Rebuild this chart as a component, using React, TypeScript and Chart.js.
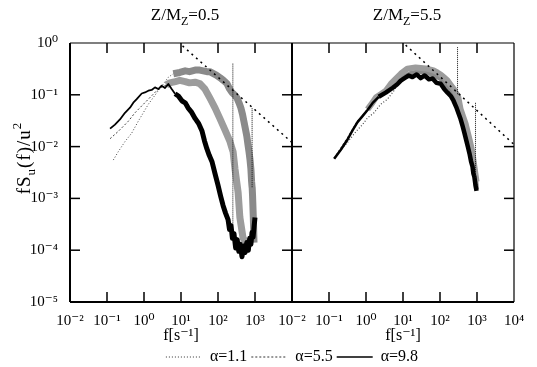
import React, { useEffect, useRef } from 'react';
import { Chart, registerables } from 'chart.js';
Chart.register(...registerables);

const SERIF = "'Liberation Serif', 'Times New Roman', 'DejaVu Serif', serif";
const W = 537;
const H = 367;

// ---- ticks / labels ----
const xTickValues = [0.01, 0.1, 1, 10, 100, 1000, 10000];
const xTickLabels = ['10⁻²', '10⁻¹', '10⁰', '10¹', '10²', '10³', '10⁴'];
const yTickValues = [1e-5, 1e-4, 1e-3, 1e-2, 1e-1, 1];
const yTickLabels = ['10⁻⁵', '10⁻⁴', '10⁻³', '10⁻²', '10⁻¹', '10⁰'];
const panelValues = ['0.5', '5.5'];
const seriesLabels = ['α=1.1', 'α=5.5', 'α=9.8'];

// ---- left panel Z/M_Z = 0.5 ----
const leftF11 = [0.148, 0.202, 0.306, 0.465, 0.70, 0.957, 1.31, 1.78, 2.43, 3.33, 4.54, 6.2, 9.3, 13, 17, 24, 32, 40, 50, 60, 73, 90, 112, 140, 174, 205, 240, 280, 325, 370, 415, 460, 500, 550, 600, 645, 690, 735, 775, 810, 830, 840, 860, 900, 940];
const leftV11 = [0.0055, 0.0080, 0.0125, 0.0182, 0.0309, 0.045, 0.0657, 0.0885, 0.12, 0.162, 0.218, 0.255, 0.27, 0.29, 0.28, 0.30, 0.30, 0.29, 0.28, 0.28, 0.26, 0.24, 0.215, 0.19, 0.165, 0.13, 0.11, 0.10, 0.087, 0.07, 0.056, 0.042, 0.031, 0.022, 0.016, 0.011, 0.0079, 0.0055, 0.0037, 0.0021, 0.0017, 0.0016, 0.0011, 0.00043, 0.00014];

const leftF55 = [0.121, 0.202, 0.377, 0.571, 0.78, 1.06, 1.61, 2.2, 3.0, 4.0, 5.0, 7.0, 9.3, 13, 17, 24, 32, 44, 60, 83, 112, 154, 210, 248, 256, 288, 350, 390, 475, 575];
const leftV55 = [0.0142, 0.0197, 0.0309, 0.045, 0.0564, 0.0706, 0.0955, 0.12, 0.139, 0.155, 0.17, 0.18, 0.19, 0.18, 0.17, 0.175, 0.165, 0.13, 0.087, 0.056, 0.035, 0.021, 0.0126, 0.0085, 0.008, 0.0037, 0.0013, 0.00043, 0.000173, 0.000138];

const leftF98 = [0.121, 0.164, 0.224, 0.306, 0.418, 0.514, 0.635, 0.867, 1.06, 1.31, 1.61, 1.98, 2.43, 3.0, 3.7, 4.54, 5.6, 6.9, 8.5, 10.7, 13, 15.5, 19, 24, 30, 37, 43, 50, 58, 69, 83, 100, 118, 137, 160, 187, 205, 225, 245, 270, 300, 330, 365, 400, 445, 490, 540, 600, 660, 720, 775, 830, 890, 950, 1000];
const leftV98 = [0.0222, 0.0266, 0.0334, 0.045, 0.0564, 0.0706, 0.0823, 0.106, 0.111, 0.12, 0.124, 0.139, 0.129, 0.15, 0.135, 0.162, 0.129, 0.105, 0.095, 0.076, 0.07, 0.056, 0.047, 0.035, 0.028, 0.020, 0.013, 0.0091, 0.0068, 0.0051, 0.003, 0.0018, 0.0011, 0.00073, 0.00052, 0.00039, 0.00025, 0.0003, 0.00017, 0.00021, 0.00011, 0.00016, 0.000095, 0.00013, 0.000075, 0.00012, 0.00009, 0.00014, 0.0001, 0.00017, 0.00013, 0.00022, 0.00018, 0.0003, 0.00043];

// narrow vertical spikes in the left panel
const leftSpikeAF = [252, 252];
const leftSpikeAV = [0.40, 0.0003];
const leftSpikeBF = [835, 835];
const leftSpikeBV = [0.055, 0.0016];

// ---- right panel Z/M_Z = 5.5 ----
const rightF11 = [0.138, 0.209, 0.30, 0.389, 0.55, 0.805, 1.10, 1.65, 2.5, 3.8, 5.7, 8.7, 12, 16.1, 22, 30, 40, 56, 75, 104, 130, 160, 195, 233, 300, 359, 420, 490, 560, 628, 700, 757, 850, 905, 920, 971];
const rightV11 = [0.0059, 0.0087, 0.0115, 0.0146, 0.02, 0.0266, 0.0359, 0.045, 0.0657, 0.0823, 0.12, 0.206, 0.23, 0.258, 0.27, 0.282, 0.27, 0.258, 0.235, 0.206, 0.18, 0.15, 0.125, 0.105, 0.07, 0.049, 0.035, 0.025, 0.018, 0.0126, 0.009, 0.0063, 0.0035, 0.0025, 0.0023, 0.0015];

const rightF55 = [0.138, 0.209, 0.317, 0.433, 0.59, 0.805, 1.10, 1.50, 1.84, 2.5, 3.42, 4.66, 6.35, 8.7, 13.1, 21.9, 30, 40.7, 52, 67, 85, 104, 130, 160, 195, 233, 265, 290, 306, 359, 420, 490, 560, 628, 700, 757, 850, 971];
const rightV55 = [0.0059, 0.00927, 0.0146, 0.0212, 0.0309, 0.0387, 0.0524, 0.0706, 0.0885, 0.103, 0.12, 0.162, 0.203, 0.255, 0.319, 0.338, 0.33, 0.323, 0.31, 0.296, 0.27, 0.247, 0.215, 0.188, 0.155, 0.131, 0.11, 0.1, 0.097, 0.053, 0.038, 0.028, 0.019, 0.0137, 0.0098, 0.0073, 0.0041, 0.0021];

const rightF98 = [0.138, 0.209, 0.317, 0.433, 0.59, 0.805, 1.10, 1.50, 2.2, 3.42, 5.3, 7.0, 8.7, 11, 14.3, 18, 23.4, 30, 38.5, 50, 63, 80, 104, 130, 160, 195, 233, 275, 316, 360, 407, 460, 521, 575, 628, 690, 757, 800, 850, 910, 971];
const rightV98 = [0.0058, 0.0087, 0.0137, 0.0206, 0.0297, 0.0387, 0.051, 0.0688, 0.0915, 0.11, 0.137, 0.16, 0.188, 0.21, 0.236, 0.22, 0.247, 0.21, 0.236, 0.2, 0.206, 0.17, 0.164, 0.13, 0.11, 0.095, 0.076, 0.058, 0.044, 0.034, 0.025, 0.018, 0.0126, 0.0095, 0.0073, 0.0052, 0.0041, 0.003, 0.0026, 0.0018, 0.0014];

// narrow vertical spikes in the right panel
const rightSpikeAF = [298, 298];
const rightSpikeAV = [0.83, 0.1];
const rightSpikeBF = [912, 912];
const rightSpikeBV = [0.07, 0.0025];

// ---- -2/3 reference lines ----
const leftDashF = [11, 10000];
const leftDashV = [0.88, 0.012];
const rightDashF = [11.8, 10000];
const rightDashV = [0.91, 0.011];

// legend line styles (one per alpha)
const legendDashes = [[1, 2], [2, 2], []];
const legendColors = ['#333', '#333', '#000'];
const legendWidths = [1, 1, 1.5];

const pts = (F: number[], V: number[]) => F.map((f, i) => ({ x: f, y: V[i] }));

// thick "band" styling from a given frequency on
const band = (F: number[], fromF: number, width: number, color: string) => {
  const on = (c: any) => F[c.p0DataIndex] >= fromF;
  return {
    borderWidth: (c: any) => (on(c) ? width : undefined),
    borderColor: (c: any) => (on(c) ? color : undefined),
    borderDash: (c: any) => (on(c) ? [] : undefined),
  };
};

const common = {
  pointRadius: 0,
  pointHoverRadius: 0,
  tension: 0,
  fill: false,
  borderJoinStyle: 'round' as const,
  yAxisID: 'y',
};

const spikeStyle = { borderColor: '#111', borderWidth: 1, borderDash: [1, 1], order: 1 };

function drawRich(ctx: CanvasRenderingContext2D, parts: [string, string][], x: number, y: number, size: number) {
  const small = Math.round(size * 0.68);
  const fontFor = (k: string) => `${k === 'n' ? size : small}px ${SERIF}`;
  const widths = parts.map(([t, k]) => {
    ctx.font = fontFor(k);
    return ctx.measureText(t).width;
  });
  const total = widths.reduce((a, b) => a + b, 0);
  let cx = x - total / 2;
  ctx.textAlign = 'left';
  ctx.textBaseline = 'middle';
  parts.forEach(([t, k], i) => {
    ctx.font = fontFor(k);
    const dy = k === 'sub' ? size * 0.32 : k === 'sup' ? -size * 0.38 : 0;
    ctx.fillText(t, cx, y + dy);
    cx += widths[i];
  });
}

const textPlugin = {
  id: 'texts',
  afterDraw(chart: any) {
    const { ctx, scales } = chart;
    const x1 = scales.x1;
    const x2 = scales.x2;
    ctx.save();
    ctx.fillStyle = '#000';
    [x1, x2].forEach((s: any, i: number) => {
      drawRich(ctx, [['Z/M', 'n'], ['Z', 'sub'], ['=' + panelValues[i], 'n']], (s.left + s.right) / 2 + 4, 16, 17);
    });
    ctx.translate(25, 158);
    ctx.rotate(-Math.PI / 2);
    (ctx as any).letterSpacing = '1px';
    drawRich(ctx, [['fS', 'n'], ['u', 'sub'], ['(f)/u', 'n'], ['2', 'sup']], 0, 0, 19);
    ctx.restore();
  },
};

const framePlugin = {
  id: 'frame',
  afterDatasetsDraw(chart: any) {
    const { ctx, chartArea: ca, scales } = chart;
    const x1 = scales.x1;
    const x2 = scales.x2;
    const y = scales.y;
    const line = (ax: number, ay: number, bx: number, by: number) => {
      ctx.beginPath();
      ctx.moveTo(ax, ay);
      ctx.lineTo(bx, by);
      ctx.stroke();
    };
    ctx.save();
    ctx.strokeStyle = '#000';
    ctx.setLineDash([]);
    ctx.lineWidth = 2;
    line(ca.left, ca.top, ca.left, ca.bottom);
    line(x1.right, ca.top, x1.right, ca.bottom);
    line(ca.left, ca.bottom, ca.right, ca.bottom);
    ctx.lineWidth = 1.2;
    line(ca.left, ca.top, ca.right, ca.top);
    line(ca.right, ca.top, ca.right, ca.bottom);
    const tl = 10;
    ctx.lineWidth = 1.5;
    [x1, x2].forEach((s: any) => {
      xTickValues.forEach((v) => {
        const px = s.getPixelForValue(v);
        if (px <= s.left + 1 || px >= s.right - 1) return;
        line(px, ca.bottom, px, ca.bottom - tl);
        line(px, ca.top, px, ca.top + tl);
      });
    });
    yTickValues.forEach((v) => {
      const py = y.getPixelForValue(v);
      if (py <= ca.top + 1 || py >= ca.bottom - 1) return;
      line(ca.left, py, ca.left + tl, py);
      line(x1.right - tl, py, x1.right + tl, py);
      line(ca.right - tl, py, ca.right, py);
    });
    ctx.restore();
  },
};

const xScale = (hideLast: boolean) => ({
  type: 'logarithmic' as const,
  position: 'bottom' as const,
  stack: 'panels',
  stackWeight: 1,
  min: 0.01,
  max: 10000,
  afterBuildTicks: (s: any) => {
    s.ticks = xTickValues.map((v) => ({ value: v }));
  },
  afterFit: (s: any) => {
    s.height = 43;
  },
  ticks: {
    autoSkip: false,
    maxRotation: 0,
    padding: 2,
    color: '#000',
    font: { family: SERIF, size: 15 },
    callback: (_v: any, i: number) => (hideLast && i === xTickValues.length - 1 ? '' : xTickLabels[i]),
  },
  grid: { display: false },
  border: { display: false },
  title: {
    display: true,
    text: 'f[s⁻¹]',
    color: '#000',
    font: { family: SERIF, size: 16 },
    padding: { top: 0, bottom: 0 },
  },
});

const GREY_A = '#8a8a8a';
const GREY_B = '#9c9c9c';

export default function App() {
  const ref = useRef<HTMLCanvasElement>(null);
  useEffect(() => {
    const canvas = ref.current as HTMLCanvasElement;
    const chart = new Chart(canvas, {
      type: 'line',
      data: {
        datasets: [
          { ...common, label: seriesLabels[0], data: pts(leftF11, leftV11), xAxisID: 'x1', borderColor: '#444', borderWidth: 1, borderDash: [1, 2], segment: band(leftF11, 5, 7, GREY_A), order: 4 },
          { ...common, label: seriesLabels[1], data: pts(leftF55, leftV55), xAxisID: 'x1', borderColor: '#444', borderWidth: 1, borderDash: [2, 2], segment: band(leftF55, 4, 7, GREY_B), order: 3 },
          { ...common, label: seriesLabels[2], data: pts(leftF98, leftV98), xAxisID: 'x1', borderColor: '#000', borderWidth: 1.8, segment: band(leftF98, 6, 5, '#000000'), order: 2 },
          { ...common, label: seriesLabels[0], data: pts(rightF11, rightV11), xAxisID: 'x2', borderColor: '#444', borderWidth: 1.2, borderDash: [1, 2], segment: band(rightF11, 6, 5, GREY_A), order: 4 },
          { ...common, label: seriesLabels[1], data: pts(rightF55, rightV55), xAxisID: 'x2', borderColor: '#555', borderWidth: 1.5, borderDash: [2, 2], segment: band(rightF55, 1, 6, GREY_B), order: 3 },
          { ...common, label: seriesLabels[2], data: pts(rightF98, rightV98), xAxisID: 'x2', borderColor: '#000', borderWidth: 2.5, segment: band(rightF98, 2, 4.5, '#000000'), order: 2 },
          { ...common, ...spikeStyle, label: 'spike', data: pts(leftSpikeAF, leftSpikeAV), xAxisID: 'x1' },
          { ...common, ...spikeStyle, label: 'spike', data: pts(leftSpikeBF, leftSpikeBV), xAxisID: 'x1' },
          { ...common, ...spikeStyle, label: 'spike', data: pts(rightSpikeAF, rightSpikeAV), xAxisID: 'x2' },
          { ...common, ...spikeStyle, label: 'spike', data: pts(rightSpikeBF, rightSpikeBV), xAxisID: 'x2' },
          { ...common, label: 'f^-2/3', data: pts(leftDashF, leftDashV), xAxisID: 'x1', borderColor: '#000', borderWidth: 1.5, borderDash: [2, 4], order: 0 },
          { ...common, label: 'f^-2/3', data: pts(rightDashF, rightDashV), xAxisID: 'x2', borderColor: '#000', borderWidth: 1.5, borderDash: [2, 4], order: 0 },
        ] as any,
      },
      options: {
        responsive: false,
        animation: false,
        devicePixelRatio: 1,
        layout: { padding: { top: 43, right: 23, bottom: -8, left: 0 } },
        plugins: {
          tooltip: { enabled: false },
          legend: {
            display: true,
            position: 'bottom',
            fullSize: false,
            onClick: () => {},
            labels: {
              usePointStyle: true,
              pointStyle: 'line',
              pointStyleWidth: 36,
              padding: 4,
              color: '#000',
              font: { family: SERIF, size: 16 },
              generateLabels: () =>
                seriesLabels.map((t, i) => ({
                  text: t,
                  fillStyle: 'rgba(0,0,0,0)',
                  strokeStyle: legendColors[i],
                  lineWidth: legendWidths[i],
                  lineDash: legendDashes[i],
                  lineCap: 'butt',
                  pointStyle: 'line',
                  hidden: false,
                  datasetIndex: i,
                  fontColor: '#000',
                })),
            },
          },
        },
        scales: {
          x1: xScale(true),
          x2: xScale(false),
          y: {
            type: 'logarithmic',
            position: 'left',
            min: 1e-5,
            max: 1,
            afterBuildTicks: (s: any) => {
              s.ticks = yTickValues.map((v) => ({ value: v }));
            },
            afterFit: (s: any) => {
              s.width = 70;
            },
            ticks: {
              autoSkip: false,
              padding: 4,
              color: '#000',
              font: { family: SERIF, size: 15 },
              callback: (_v: any, i: number) => yTickLabels[i],
            },
            grid: { display: false },
            border: { display: false },
          },
        } as any,
      } as any,
      plugins: [framePlugin, textPlugin],
    });
    return () => chart.destroy();
  }, []);
  return (
    <div style={{ position: 'absolute', left: 0, top: 0, width: W, height: H, background: '#fff' }}>
      <canvas ref={ref} width={W} height={H} style={{ display: 'block', width: W, height: H }} />
    </div>
  );
}
